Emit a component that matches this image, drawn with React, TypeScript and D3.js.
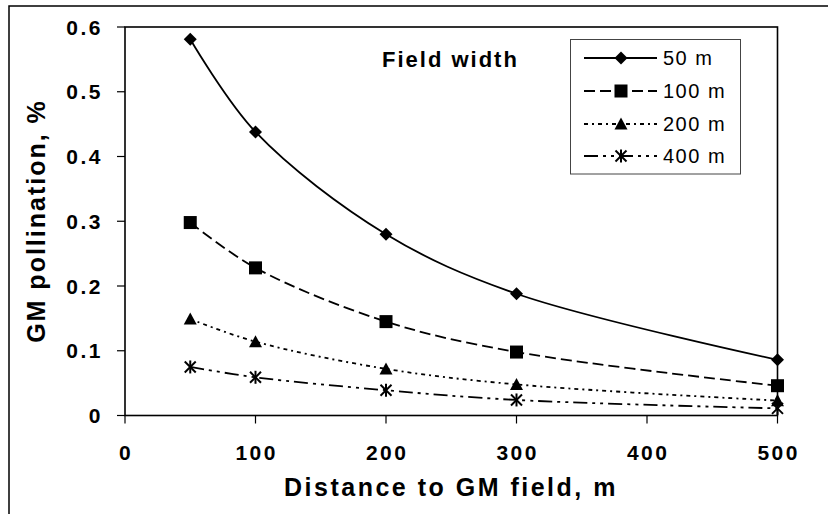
import React from "react";
import * as d3 from "d3";

const distances = [50, 100, 200, 300, 500];
const w50 = [0.581, 0.438, 0.28, 0.188, 0.086];
const w100 = [0.298, 0.228, 0.145, 0.098, 0.046];
const w200 = [0.149, 0.114, 0.072, 0.048, 0.023];
const w400 = [0.075, 0.059, 0.039, 0.024, 0.011];
const seriesNames = ["50 m", "100 m", "200 m", "400 m"];
const xTicks = [0, 100, 200, 300, 400, 500];
const yTicks = [0, 0.1, 0.2, 0.3, 0.4, 0.5, 0.6];
const yTickLabels = ["0", "0.1", "0.2", "0.3", "0.4", "0.5", "0.6"];
const xTitle = "Distance to GM field, m";
const yTitle = "GM pollination, %";
const legendTitle = "Field width";

const FONT = "'Liberation Sans', Arial, Helvetica, sans-serif";

const W = 828;
const H = 514;
const L = 125, R = 777.5, T = 27, B = 415.5;

const dashes = ["none", "11,5", "4,4,2,4", "14,5,3,5,3,5"];
const markers = ["diamond", "square", "triangle", "star"];

function Marker({ type, cx, cy }: { type: string; cx: number; cy: number }) {
  if (type === "diamond") {
    const s = 6.5;
    return <path d={`M${cx},${cy - s}L${cx + s},${cy}L${cx},${cy + s}L${cx - s},${cy}Z`} fill="#000" />;
  }
  if (type === "square") {
    const s = 6.5;
    return <rect x={cx - s} y={cy - s} width={2 * s} height={2 * s} fill="#000" />;
  }
  if (type === "triangle") {
    const s = 6.5;
    return <path d={`M${cx},${cy - s}L${cx + s},${cy + s * 0.85}L${cx - s},${cy + s * 0.85}Z`} fill="#000" />;
  }
  const s = 5.5;
  return (
    <g stroke="#000" strokeWidth={2}>
      <line x1={cx - s} y1={cy - s} x2={cx + s} y2={cy + s} />
      <line x1={cx - s} y1={cy + s} x2={cx + s} y2={cy - s} />
      <line x1={cx} y1={cy - s - 1} x2={cx} y2={cy + s + 1} />
    </g>
  );
}

export default function App() {
  const x = d3.scaleLinear().domain([0, 500]).range([L, R]);
  const y = d3.scaleLinear().domain([0, 0.6]).range([B, T]);
  const allSeries = [w50, w100, w200, w400];
  const line = d3
    .line<[number, number]>()
    .x((d) => x(d[0]))
    .y((d) => y(d[1]))
    .curve(d3.curveCatmullRom.alpha(0.5));

  const legendX = 570.5, legendY = 39.5, legendW = 170, legendH = 134.5;
  const legendRows = [58, 91, 124, 156];

  return (
    <svg
      width={W}
      height={H}
      style={{ position: "absolute", left: 0, top: 0, background: "#fff" }}
      fontFamily={FONT}
    >
      <rect x={0} y={0} width={W} height={H} fill="#fff" />
      {/* outer chart border (cropped at right/bottom) */}
      <rect x={9} y={6} width={W + 20} height={H + 20} fill="none" stroke="#000" strokeWidth={1.5} />

      {/* plot area frame */}
      <rect x={L} y={T} width={R - L} height={B - T} fill="none" stroke="#000" strokeWidth={1.6} />

      {/* y axis ticks & labels */}
      {yTicks.map((t, i) => (
        <g key={"y" + i}>
          <line x1={L - 8} x2={L} y1={y(t)} y2={y(t)} stroke="#000" strokeWidth={1.2} />
          <text
            x={103}
            y={y(t)}
            dy="0.36em"
            textAnchor="end"
            fontSize={21}
            fontWeight="bold"
            letterSpacing={2.5}
          >
            {yTickLabels[i]}
          </text>
        </g>
      ))}

      {/* x axis ticks & labels */}
      {xTicks.map((t, i) => (
        <g key={"x" + i}>
          <line x1={x(t)} x2={x(t)} y1={B} y2={B + 8} stroke="#000" strokeWidth={1.2} />
          <text
            x={x(t) + 1.2}
            y={460}
            textAnchor="middle"
            fontSize={21}
            fontWeight="bold"
            letterSpacing={2.5}
          >
            {String(t)}
          </text>
        </g>
      ))}

      {/* axis titles */}
      <text
        x={451}
        y={496}
        textAnchor="middle"
        fontSize={25}
        fontWeight="bold"
        letterSpacing={2.5}
      >
        {xTitle}
      </text>
      <text
        transform={`translate(45,${221}) rotate(-90)`}
        textAnchor="middle"
        fontSize={25}
        fontWeight="bold"
        letterSpacing={2}
      >
        {yTitle}
      </text>

      {/* series */}
      {allSeries.map((vals, si) => {
        const pts = distances.map((d, i) => [d, vals[i]] as [number, number]);
        return (
          <g key={"s" + si}>
            <path
              d={line(pts) || ""}
              fill="none"
              stroke="#000"
              strokeWidth={1.8}
              strokeDasharray={dashes[si]}
            />
            {pts.map((p, i) => (
              <Marker key={i} type={markers[si]} cx={x(p[0])} cy={y(p[1])} />
            ))}
          </g>
        );
      })}

      {/* legend title */}
      <text x={382} y={67} fontSize={22} fontWeight="bold" letterSpacing={2}>
        {legendTitle}
      </text>

      {/* legend */}
      <rect x={legendX} y={legendY} width={legendW} height={legendH} fill="#fff" stroke="#444" strokeWidth={1} />
      {seriesNames.map((name, i) => (
        <g key={"l" + i}>
          <line
            x1={584}
            x2={657}
            y1={legendRows[i]}
            y2={legendRows[i]}
            stroke="#000"
            strokeWidth={1.8}
            strokeDasharray={dashes[i]}
          />
          <Marker type={markers[i]} cx={621} cy={legendRows[i]} />
          <text x={663} y={legendRows[i]} dy="0.36em" fontSize={20} letterSpacing={1.5}>
            {name}
          </text>
        </g>
      ))}
    </svg>
  );
}
